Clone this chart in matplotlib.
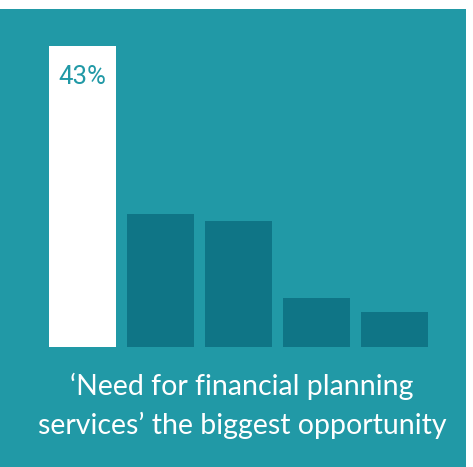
import matplotlib
matplotlib.use('Agg')
import matplotlib.pyplot as plt

# Share of respondents per option (%)
options = ['A', 'B', 'C', 'D', 'E']
shares = [43, 19, 18, 7, 5]
label = '43%'
caption = '\u2018Need for financial planning\nservices\u2019 the biggest opportunity'

teal = '#2199A6'
dark = '#0F7586'

fig = plt.figure(figsize=(4.73, 4.67), dpi=100, facecolor='white')
ax = fig.add_axes([0, 0, 466 / 473, 458 / 467])
ax.set_facecolor(teal)

x = list(range(len(shares)))
colors = ['white'] + [dark] * (len(shares) - 1)
ax.bar(x, shares, width=67 / 78, color=colors, linewidth=0)

ax.set_xlim(-82.5 / 78, (466 - 82.5) / 78)
ax.set_ylim(-120 / 7, 338 / 7)
for s in ax.spines.values():
    s.set_visible(False)
ax.set_xticks([])
ax.set_yticks([])

# value label inside the top of the first bar
ax.text(0, shares[0] - 4.4, label, ha='center', va='center', color=teal,
        fontsize=18.5, family='Roboto')

# caption under the bars
ax.text(242 / 466, (467 - 406) / 458, caption, transform=ax.transAxes,
        ha='center', va='center', color='white', fontsize=20.5,
        family='Lato', linespacing=1.5)

fig.savefig('out.png', dpi=100, facecolor='white')
